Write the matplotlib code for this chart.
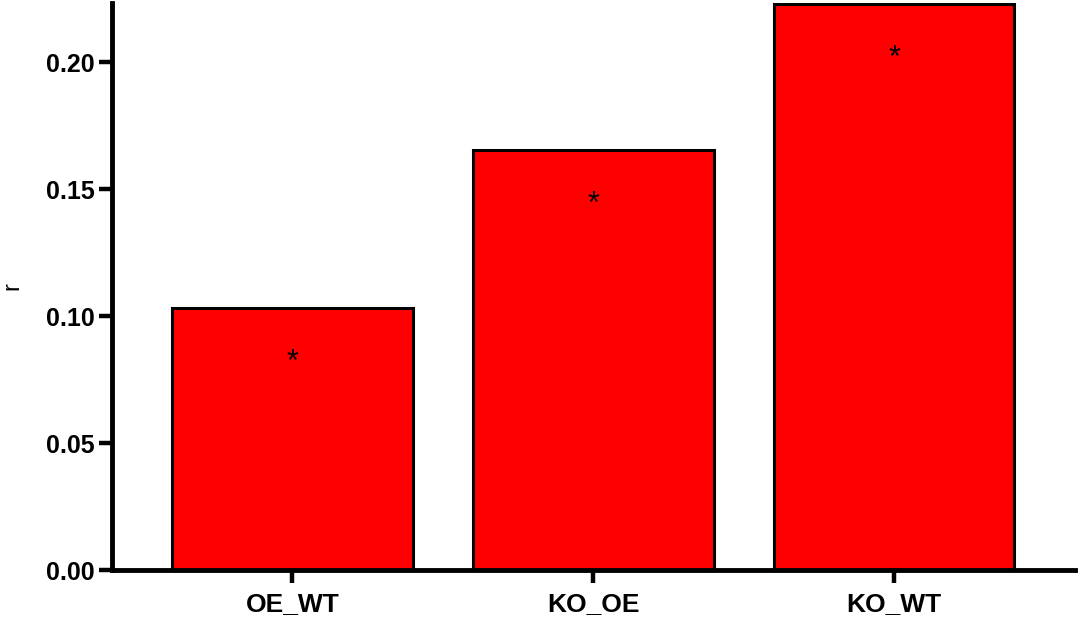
import matplotlib
matplotlib.use("Agg")
import matplotlib.pyplot as plt

categories = ["OE_WT", "KO_OE", "KO_WT"]
r_values = [0.1031, 0.1654, 0.2228]
sig_labels = ["*", "*", "*"]
yticks = [0.00, 0.05, 0.10, 0.15, 0.20]

plt.rcParams['font.family'] = ['Liberation Sans', 'DejaVu Sans']

fig = plt.figure(figsize=(10.8, 6.21), dpi=100)
ax = fig.add_axes([0.1037, 0.0821, 0.8913, 0.9129])

x = list(range(len(categories)))
ax.bar(x, r_values, width=0.8, color="#ff0000", edgecolor="black", linewidth=2.2, zorder=2)
for xi, v, s in zip(x, r_values, sig_labels):
    ax.text(xi, v - 0.0215, s, ha="center", va="center", fontsize=22, color="black", zorder=3)

ax.set_xlim(-0.6, 2.6)
ax.set_ylim(0, 0.2232)
ax.set_yticks(yticks)
ax.set_yticklabels([f"{t:.2f}" for t in yticks], fontsize=18, fontweight="bold")
ax.set_xticks(x)
ax.set_xticklabels(categories, fontsize=19, fontweight="bold")
ax.set_ylabel("r", fontsize=17)
ax.yaxis.set_label_coords(-0.092, 0.5)

for side in ["top", "right"]:
    ax.spines[side].set_visible(False)
for side in ["left", "bottom"]:
    ax.spines[side].set_linewidth(3.5)
ax.tick_params(axis="both", width=3.2, length=9.5)
ax.tick_params(axis="y", pad=3)
ax.tick_params(axis="x", pad=6)

fig.savefig("out.png", dpi=100)
